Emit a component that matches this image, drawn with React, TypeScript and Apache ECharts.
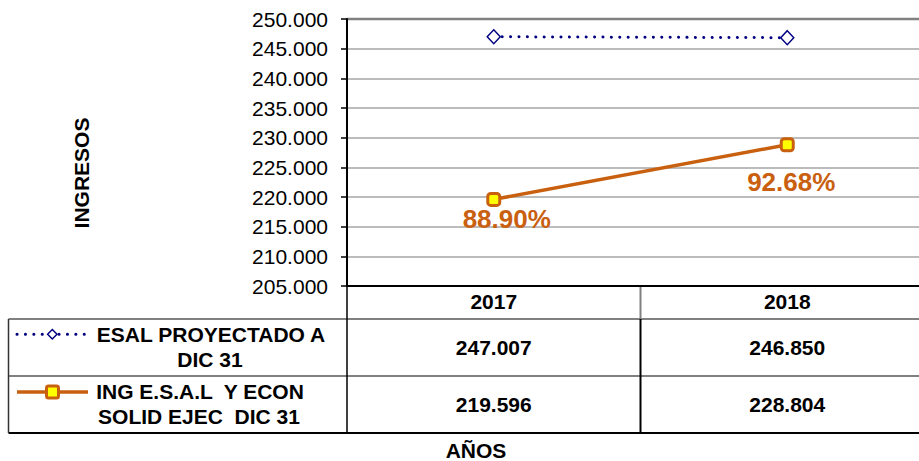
import React, { useEffect, useRef } from "react";
import * as echarts from "echarts";

const categories = ["2017", "2018"];
const proyectado = [247.007, 246.85];
const ejecutado = [219.596, 228.804];
const pctLabels = ["88.90%", "92.68%"];
const seriesNames = [
  ["ESAL PROYECTADO A", "DIC 31"],
  ["ING E.S.A.L  Y ECON", "SOLID EJEC  DIC 31"],
];
const yTitle = "INGRESOS";
const xTitle = "AÑOS";

const FONT = "'Liberation Sans', Arial, Helvetica, sans-serif";
const NAVY = "#000080";
const ORANGE = "#C9600F";
const CHART_W = 936;

export default function App() {
  const ref = useRef<HTMLDivElement>(null);
  useEffect(() => {
    if (!ref.current) return;
    const chart = echarts.init(ref.current, null, { renderer: "svg" });
    const gridLeft = 347;
    const gridTop = 19;
    const gridBottomY = 286;
    chart.setOption({
      animation: false,
      grid: {
        left: gridLeft,
        top: gridTop,
        width: 587,
        height: gridBottomY - gridTop,
        outerBoundsMode: "none",
        containLabel: false,
      },
      xAxis: {
        type: "category",
        data: categories,
        boundaryGap: true,
        axisLine: { show: true, lineStyle: { color: "#000", width: 2 } },
        axisTick: { show: false },
        axisLabel: { show: false },
        splitLine: { show: false },
      },
      yAxis: {
        type: "value",
        min: 205,
        max: 250,
        interval: 5,
        axisLine: { show: true, lineStyle: { color: "#000", width: 2 } },
        axisTick: { show: true, length: 6, lineStyle: { color: "#000", width: 1.5 } },
        axisLabel: {
          margin: 19,
          color: "#000",
          fontFamily: FONT,
          fontSize: 21,
          formatter: (v: number) => v.toFixed(3),
        },
        splitLine: { show: true, lineStyle: { color: "#A6A6A6", width: 1.5 } },
      },
      series: [
        {
          name: seriesNames[0].join(" "),
          type: "line",
          data: proyectado,
          symbol: "diamond",
          symbolSize: [13, 14],
          lineStyle: { color: NAVY, width: 3, type: [0.1, 8.3], cap: "round" },
          itemStyle: { color: "#fff", borderColor: NAVY, borderWidth: 1.5 },
          z: 3,
        },
        {
          name: seriesNames[1].join(" "),
          type: "line",
          data: ejecutado.map((v, i) => ({
            value: v,
            label: {
              show: true,
              position: "inside",
              offset: i === 0 ? [13, 20] : [4, 37],
              formatter: () => pctLabels[i],
            },
          })),
          symbol: "roundRect",
          symbolSize: 12,
          lineStyle: { color: ORANGE, width: 3.5 },
          itemStyle: { color: "#FFFF00", borderColor: ORANGE, borderWidth: 3 },
          label: {
            color: ORANGE,
            fontFamily: FONT,
            fontWeight: "bold",
            fontSize: 26,
          },
          z: 4,
        },
      ],
    });

    const c0 = chart.convertToPixel({ xAxisIndex: 0 }, categories[0]) as number;
    const c1 = chart.convertToPixel({ xAxisIndex: 0 }, categories[1]) as number;
    const centers = [c0, c1];
    const divX = (c0 + c1) / 2;
    const row1Y = 319;
    const row2Y = 376;
    const row3Y = 433;
    const tableLeft = 8.5;
    const right = CHART_W;

    const boldText = (x: number, y: number, text: string, extra: any = {}) => ({
      type: "text",
      x,
      y,
      ...extra,
      style: {
        text,
        fill: "#000",
        font: `bold 21px ${FONT}`,
        align: "center",
        verticalAlign: "middle",
      },
    });
    const line = (x1: number, y1: number, x2: number, y2: number, stroke: string, lw: number, extra: any = {}) => ({
      type: "line",
      shape: { x1, y1, x2, y2 },
      style: { stroke, lineWidth: lw, ...extra },
    });

    const elements: any[] = [
      line(gridLeft, gridTop, right, gridTop, "#808080", 2.5),
      line(tableLeft, row1Y, right, row1Y, "#808080", 2),
      line(tableLeft, row2Y, right, row2Y, "#808080", 2),
      line(tableLeft, row3Y, right, row3Y, "#000", 2),
      line(tableLeft, row1Y, tableLeft, row3Y, "#333", 1.5),
      line(gridLeft, gridBottomY, gridLeft, row3Y, "#000", 1.5),
      line(divX, gridBottomY, divX, row1Y, "#808080", 2),
      line(divX, row1Y, divX, row3Y, "#000", 2),
      // legend keys
      line(17, 334.3, 88, 334.3, NAVY, 3, { lineDash: [0.1, 8.3], lineCap: "round" }),
      {
        type: "polygon",
        shape: { points: [[52.3, 329.5], [57, 334.3], [52.3, 339], [47.6, 334.3]] },
        style: { fill: "#fff", stroke: NAVY, lineWidth: 1.5 },
      },
      line(17, 392, 88, 392, ORANGE, 3.5),
      {
        type: "rect",
        shape: { x: 46.5, y: 386, width: 12, height: 12, r: 2 },
        style: { fill: "#FFFF00", stroke: ORANGE, lineWidth: 3 },
      },
      boldText(211, 334, seriesNames[0][0]),
      boldText(210, 359.5, seriesNames[0][1]),
      boldText(200, 391.5, seriesNames[1][0]),
      boldText(199, 416, seriesNames[1][1]),
      boldText(81.7, 173, yTitle, { rotation: Math.PI / 2 }),
      boldText(476, 450.5, xTitle),
    ];
    centers.forEach((cx, i) => {
      elements.push(boldText(cx, 301, categories[i]));
      elements.push(boldText(cx, 347.5, proyectado[i].toFixed(3)));
      elements.push(boldText(cx, 404, ejecutado[i].toFixed(3)));
    });

    chart.setOption({ graphic: { elements } });
    return () => chart.dispose();
  }, []);
  return (
    <div
      style={{
        position: "fixed",
        left: 0,
        top: 0,
        width: 919,
        height: 461,
        overflow: "hidden",
        background: "#fff",
      }}
    >
      <div ref={ref} style={{ width: CHART_W, height: 461 }} />
    </div>
  );
}
